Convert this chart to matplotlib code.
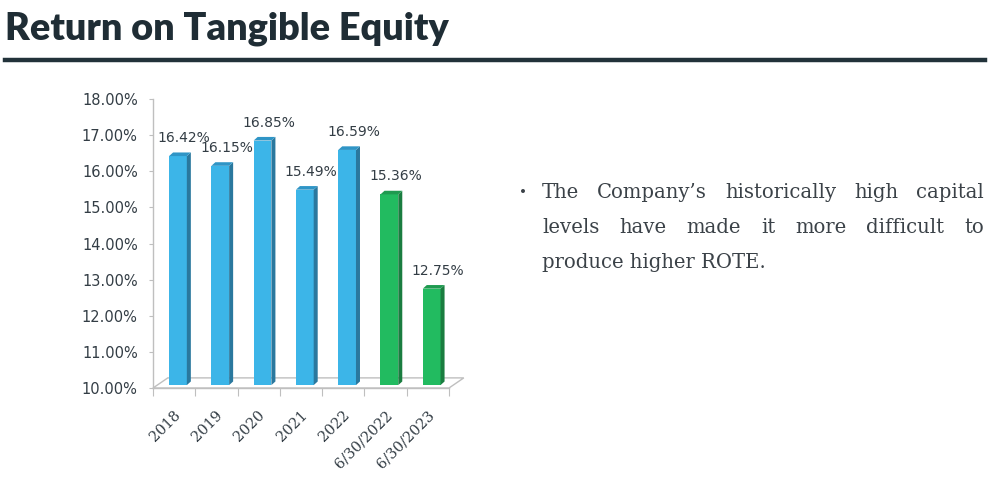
import matplotlib.pyplot as plt
from matplotlib.patches import Polygon
import numpy as np

# data
categories = ["2018", "2019", "2020", "2021", "2022", "6/30/2022", "6/30/2023"]
rote = [16.42, 16.15, 16.85, 15.49, 16.59, 15.36, 12.75]
interim = [False, False, False, False, False, True, True]
yticks = [10, 11, 12, 13, 14, 15, 16, 17, 18]

title = "Return on Tangible Equity"
bullet_lines = [
    "The Company\u2019s historically high capital",
    "levels have made it more difficult to",
    "produce higher ROTE.",
]

plt.rcParams["font.family"] = "DejaVu Sans"

W, H = 996, 479
fig = plt.figure(figsize=(W / 100, H / 100), dpi=100)
renderer = fig.canvas.get_renderer()

def px(x, y):
    return x / W, 1 - y / H

def fit_size(txt, target_w, start, **kw):
    # scale the font size so the text is target_w pixels wide
    t = fig.text(0, 0, txt, fontsize=start, **kw)
    w = t.get_window_extent(renderer).width
    t.remove()
    return start * target_w / w

# ---- title + rule
tsize = fit_size(title, 445, 24, fontweight="heavy", family="Lato")
fig.text(*px(5, 40), title, fontsize=tsize, fontweight="heavy",
         family="Lato", color="#1f2d35", va="baseline")
fig.add_artist(plt.Line2D([5 / W, 985 / W], [1 - 59.5 / H] * 2,
                          color="#22323a", linewidth=3.2))

# ---- chart
ax = fig.add_axes([153 / W, 1 - 388 / H, 296 / W, 289 / H])
ax.set_xlim(-0.5, 6.5)
ax.set_ylim(10, 18)

grey = "#bfbfbf"
lab = "#333d45"
floor = 10.08
dx, dy = 0.095, 0.1
left_off, bw = -0.12, 0.42

front = ["#22bb60" if g else "#3cb5e8" for g in interim]
side = ["#1a7d40" if g else "#2a789e" for g in interim]
top = ["#1f9a50" if g else "#2f95c6" for g in interim]

x = np.arange(len(categories))
heights = [v - floor for v in rote]
ax.bar(x + left_off, heights, bottom=floor, width=bw, align="edge",
       color=front, zorder=3, linewidth=0)

for i, v in enumerate(rote):
    xl = x[i] + left_off
    xr = xl + bw
    ax.add_patch(Polygon([(xr, floor), (xr + dx, floor + dy),
                          (xr + dx, v + dy), (xr, v)],
                         closed=True, color=side[i], lw=0, zorder=3))
    ax.add_patch(Polygon([(xl, v), (xr, v), (xr + dx, v + dy),
                          (xl + dx, v + dy)],
                         closed=True, color=top[i], lw=0, zorder=3))
    ax.annotate(f"{v:.2f}%", (x[i] + 0.24, v), xytext=(0, 10),
                textcoords="offset points", ha="center", va="baseline",
                fontsize=10, color=lab, zorder=4, family="DejaVu Sans")

# 3d floor
ax.add_patch(Polygon([(-0.5, 10), (6.5, 10), (6.85, 10.28), (-0.15, 10.28)],
                     closed=True, facecolor="white", edgecolor=grey,
                     lw=1, clip_on=False, zorder=2))

for s in ["top", "right"]:
    ax.spines[s].set_visible(False)
for s in ["left", "bottom"]:
    ax.spines[s].set_color(grey)
    ax.spines[s].set_linewidth(1)

ax.set_yticks(yticks)
ax.set_yticklabels([f"{t:.2f}%" for t in yticks], family="DejaVu Sans")
ax.tick_params(axis="y", length=3, color=grey, labelsize=10.5,
               labelcolor=lab, pad=8)

ax.set_xticks(np.arange(-0.5, len(categories), 1))
ax.set_xticklabels([])
ax.tick_params(axis="x", which="major", length=6, color=grey)
ax.set_xticks(x + 0.1, minor=True)
ax.set_xticklabels(categories, minor=True, rotation=45, ha="right",
                   va="center", rotation_mode="anchor",
                   family="DejaVu Serif")
ax.tick_params(axis="x", which="minor", length=0, pad=18,
               labelsize=10.5, labelcolor=lab)

# ---- bullet text, justified like the slide
bsize = fit_size(bullet_lines[2], 225, 14, family="DejaVu Serif")
tcol = "#3b4248"
x0, x1 = 542, 984
base = [198, 233, 268]
fig.text(*px(523, base[0] - 5), "\u2022", fontsize=bsize * 0.7,
         color=tcol, va="center", ha="center", family="DejaVu Serif")
for li, line in enumerate(bullet_lines):
    words = line.split()
    if li == len(bullet_lines) - 1:
        fig.text(*px(x0, base[li]), line, fontsize=bsize, color=tcol,
                 va="baseline", family="DejaVu Serif")
        continue
    arts = [fig.text(0, 0, w, fontsize=bsize, color=tcol, va="baseline",
                     family="DejaVu Serif") for w in words]
    widths = [a.get_window_extent(renderer).width for a in arts]
    gap = (x1 - x0 - sum(widths)) / (len(words) - 1)
    cx = x0
    for a, w in zip(arts, widths):
        a.set_position(px(cx, base[li]))
        cx += w + gap

fig.savefig("out.png", dpi=100, facecolor="white")
